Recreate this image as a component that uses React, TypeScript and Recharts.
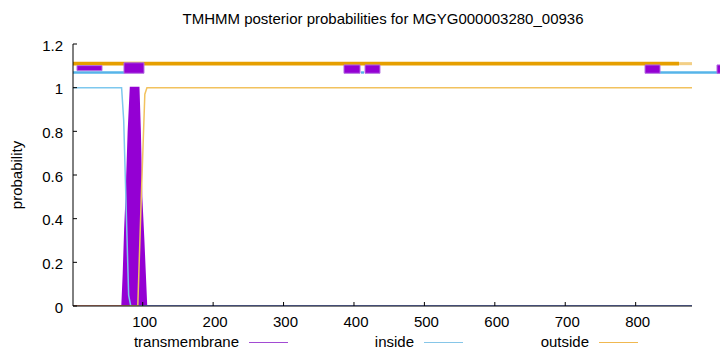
import React from "react";
import {
  ComposedChart,
  Area,
  Line,
  XAxis,
  YAxis,
  ReferenceArea,
} from "recharts";

// posterior probabilities (position, probability)
const tmPos = [1, 71, 73, 75, 77, 80, 83, 94, 96, 98, 101, 103, 105, 880];
const tmProb = [0, 0, 0.15, 0.35, 0.5, 0.8, 1, 1, 0.8, 0.5, 0.3, 0.15, 0, 0];

const insidePos = [1, 70, 73, 80, 83, 880];
const insideProb = [1, 1, 0.85, 0.05, 0, 0];

const outsidePos = [1, 93, 98, 103, 106, 880];
const outsideProb = [0, 0, 0.5, 0.97, 1, 1];

// predicted topology tracks drawn above the curves: [from, to]
const tmBoxes = [
  [6.7, 42.2],
  [73.4, 101.8],
  [385.8, 408.6],
  [415.7, 436.9],
  [813.3, 834.6],
  [915.5, 930],
];
const insideTrack = [
  [1, 73.4],
  [410, 414.2],
  [834.6, 930],
];
const outsideTrack = [[1, 861.6]];
const outsideTail = [[861.6, 880]];

const xTicks = [100, 200, 300, 400, 500, 600, 700, 800];
const yTicks = [0, 0.2, 0.4, 0.6, 0.8, 1, 1.2];

const legendNames = ["transmembrane", "inside", "outside"];
const legendColors = ["#a24bd3", "#86c6e8", "#f0b850"];

const tmData = tmPos.map((x, i) => ({ x, y: tmProb[i] }));
const insideData = insidePos.map((x, i) => ({ x, y: insideProb[i] }));
const outsideData = outsidePos.map((x, i) => ({ x, y: outsideProb[i] }));

const FONT = "'Liberation Sans', Arial, Helvetica, sans-serif";

const BottomTick = (p: any) => (
  <g>
    <line x1={p.x} x2={p.x} y1={306} y2={302} stroke="#000" />
    <text x={p.x + 2} y={326.5} textAnchor="middle" fontSize={15} fontFamily={FONT} fill="#000">
      {p.payload.value}
    </text>
  </g>
);

const TopTick = (p: any) => (
  <line x1={p.x} x2={p.x} y1={44} y2={48} stroke="#000" />
);

const LeftTick = (p: any) => (
  <g>
    <line x1={73} x2={77} y1={p.y} y2={p.y} stroke="#000" />
    <text x={63} y={p.y + 6.5} textAnchor="end" fontSize={15} fontFamily={FONT} fill="#000">
      {p.payload.value}
    </text>
  </g>
);

const RightTick = (p: any) => (
  <line x1={688} x2={692} y1={p.y} y2={p.y} stroke="#000" />
);

export default function App() {
  return (
    <div style={{ position: "relative", width: 720, height: 352, background: "#fff" }}>
      <style>{`body{margin:0}`}</style>
      <ComposedChart
        width={720}
        height={352}
        data={tmData}
        margin={{ top: 44, right: 28, bottom: 0, left: 0 }}
      >
        <XAxis
          xAxisId={0}
          dataKey="x"
          type="number"
          domain={[1, 880]}
          ticks={xTicks}
          allowDataOverflow
          height={46}
          tickSize={0}
          tickMargin={0}
          tick={BottomTick}
          axisLine={{ stroke: "#000" }}
          tickLine={false}
        />
        <XAxis
          xAxisId="top"
          dataKey="x"
          type="number"
          orientation="top"
          domain={[1, 880]}
          ticks={xTicks}
          allowDataOverflow
          height={0}
          tickSize={0}
          tick={TopTick}
          axisLine={{ stroke: "#000" }}
          tickLine={false}
        />
        <YAxis
          yAxisId={0}
          type="number"
          domain={[0, 1.2]}
          ticks={yTicks}
          allowDataOverflow
          width={73}
          tickSize={0}
          tickMargin={0}
          tick={LeftTick}
          axisLine={{ stroke: "#000" }}
          tickLine={false}
        />
        <YAxis
          yAxisId="right"
          orientation="right"
          type="number"
          domain={[0, 1.2]}
          ticks={yTicks}
          allowDataOverflow
          width={0}
          tickSize={0}
          tick={RightTick}
          axisLine={{ stroke: "#000" }}
          tickLine={false}
        />

        <Area
          dataKey="y"
          type="linear"
          stroke="#9400d3"
          strokeWidth={2}
          fill="#9400d3"
          fillOpacity={1}
          isAnimationActive={false}
          dot={false}
          activeDot={false}
        />
        <Line
          data={insideData}
          dataKey="y"
          type="linear"
          stroke="#7ec8ee"
          strokeWidth={1.5}
          dot={false}
          activeDot={false}
          isAnimationActive={false}
        />
        <Line
          data={outsideData}
          dataKey="y"
          type="linear"
          stroke="#f2c25e"
          strokeWidth={1.5}
          dot={false}
          activeDot={false}
          isAnimationActive={false}
        />

        {outsideTrack.map(([a, b], i) => (
          <ReferenceArea key={"o" + i} x1={a} x2={b} y1={1.102} y2={1.119} fill="#e69f00" fillOpacity={1} stroke="none" ifOverflow="visible" />
        ))}
        {outsideTail.map(([a, b], i) => (
          <ReferenceArea key={"ot" + i} x1={a} x2={b} y1={1.103} y2={1.117} fill="#f3cf86" fillOpacity={1} stroke="none" ifOverflow="visible" />
        ))}
        {insideTrack.map(([a, b], i) => (
          <ReferenceArea key={"i" + i} x1={a} x2={b} y1={1.064} y2={1.075} fill="#56b4e9" fillOpacity={1} stroke="none" ifOverflow="visible" />
        ))}
        {tmBoxes.map(([a, b], i) => (
          <ReferenceArea
            key={"t" + i}
            x1={a}
            x2={b}
            y1={i === 0 ? 1.078 : 1.066}
            y2={i === 1 ? 1.114 : i === 0 ? 1.101 : 1.104}
            fill="#9400d3"
            fillOpacity={1}
            stroke="#b46ee0"
            strokeWidth={1}
            ifOverflow="visible"
          />
        ))}
      </ComposedChart>

      <div
        style={{
          position: "absolute",
          left: 0,
          width: 766,
          top: 10,
          textAlign: "center",
          fontFamily: FONT,
          fontSize: 15,
          lineHeight: "18px",
          color: "#000",
          whiteSpace: "nowrap",
        }}
      >
        TMHMM posterior probabilities for MGYG000003280_00936
      </div>

      <div
        style={{
          position: "absolute",
          left: 16,
          top: 175,
          transform: "translate(-50%, -50%) rotate(-90deg)",
          fontFamily: FONT,
          fontSize: 15,
          whiteSpace: "nowrap",
          color: "#000",
        }}
      >
        probability
      </div>

      {legendNames.map((name, i) => (
        <div
          key={name}
          style={{
            position: "absolute",
            left: 0,
            top: 333,
            width: 239 + i * 175,
            textAlign: "right",
            fontFamily: FONT,
            fontSize: 15,
            lineHeight: "18px",
            whiteSpace: "nowrap",
            color: "#000",
          }}
        >
          {name}
          <span
            style={{
              position: "absolute",
              left: 239 + i * 175 + 10,
              top: 9,
              width: 39,
              height: 0,
              borderTop: `1.5px solid ${legendColors[i]}`,
            }}
          />
        </div>
      ))}
    </div>
  );
}
